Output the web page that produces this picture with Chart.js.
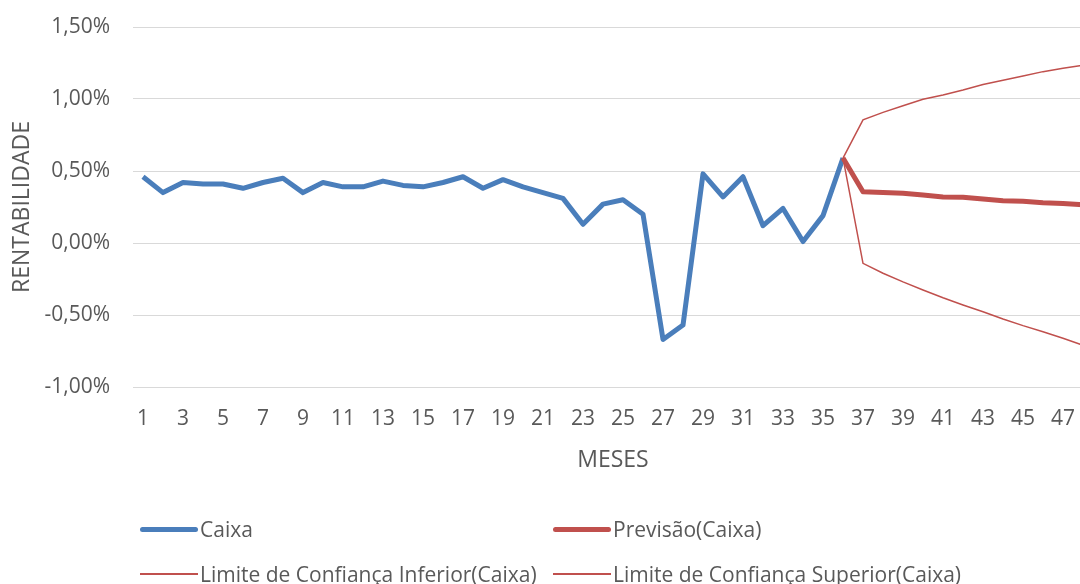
<!DOCTYPE html>
<html>
<head>
<meta charset="utf-8">
<script src="https://cdn.jsdelivr.net/npm/chart.js@4/dist/chart.umd.min.js"></script>
<style>
  html, body { margin:0; padding:0; background:#fff; overflow:hidden; width:1080px; height:584px; }
  #wrap { position:absolute; left:0; top:0; width:1110px; height:490px; }
  #legend { position:absolute; left:0; top:0; width:1080px; height:584px; pointer-events:none; }
  .li { position:absolute; display:flex; align-items:center; height:30px; font-family:"Open Sans",sans-serif; font-size:21px; color:#595959; white-space:nowrap; }
  .li .sw { width:58px; margin-right:2px; }
</style>
</head>
<body>
<div id="wrap"><canvas id="c" width="1110" height="490"></canvas></div>
<div id="legend"></div>
<script>
const months = [1,2,3,4,5,6,7,8,9,10,11,12,13,14,15,16,17,18,19,20,21,22,23,24,25,26,27,28,29,30,31,32,33,34,35,36,37,38,39,40,41,42,43,44,45,46,47,48];
// Rentabilidade (%), months 1..36
const caixa = [0.46,0.35,0.42,0.41,0.41,0.38,0.42,0.45,0.35,0.42,0.39,0.39,0.43,0.40,0.39,0.42,0.46,0.38,0.44,0.39,0.35,0.31,0.13,0.27,0.30,0.20,-0.67,-0.57,0.48,0.32,0.46,0.12,0.24,0.01,0.19,0.59];
// Forecast series, months 36..48
const previsao = [0.59,0.356,0.35,0.345,0.333,0.32,0.317,0.305,0.294,0.29,0.28,0.275,0.265];
const inferior = [0.59,-0.141,-0.21,-0.27,-0.326,-0.38,-0.43,-0.477,-0.528,-0.574,-0.616,-0.662,-0.71];
const superior = [0.59,0.855,0.907,0.953,0.998,1.028,1.062,1.10,1.13,1.16,1.19,1.213,1.235];
const seriesNames = ["Caixa","Previsão(Caixa)","Limite de Confiança Inferior(Caixa)","Limite de Confiança Superior(Caixa)"];
const forecastStart = 36;

function padForecast(arr){
  const out = months.map(() => null);
  arr.forEach((v,i) => { out[forecastStart - 1 + i] = v; });
  return out;
}
const caixaData = months.map((m,i) => i < caixa.length ? caixa[i] : null);

const FONT = "'Open Sans',sans-serif";
const GRAY = '#595959';
const BLUE = '#4a7ebb';
const RED = '#c0504d';

const chart = new Chart(document.getElementById('c'), {
  type: 'line',
  data: {
    labels: months,
    datasets: [
      { label: seriesNames[0], data: caixaData, borderColor: BLUE, backgroundColor: BLUE, borderWidth: 5, pointRadius: 0, order: 4, borderJoinStyle:'round' },
      { label: seriesNames[1], data: padForecast(previsao), borderColor: RED, backgroundColor: RED, borderWidth: 5, pointRadius: 0, order: 3, borderJoinStyle:'round' },
      { label: seriesNames[2], data: padForecast(inferior), borderColor: RED, backgroundColor: RED, borderWidth: 1.5, pointRadius: 0, order: 2 },
      { label: seriesNames[3], data: padForecast(superior), borderColor: RED, backgroundColor: RED, borderWidth: 1.5, pointRadius: 0, order: 1 }
    ]
  },
  options: {
    responsive: false,
    animation: false,
    spanGaps: false,
    layout: { padding: { top: 27, right: 17, left: 0, bottom: 0 } },
    plugins: { legend: { display: false }, tooltip: { enabled: false } },
    scales: {
      x: {
        offset: true,
        grid: { display: false, drawTicks: false },
        border: { display: false },
        ticks: {
          autoSkip: false, maxRotation: 0, minRotation: 0, padding: 19,
          color: GRAY, font: { family: FONT, size: 21 },
          callback: function(val, idx){ return idx % 2 === 0 ? String(months[idx]) : ''; }
        },
        title: { display: true, text: 'MESES', color: GRAY, font: { family: FONT, size: 23 }, padding: { top: 0, bottom: 16 } },
        afterFit: function(s){ s.height = 103; }
      },
      y: {
        min: -1, max: 1.5,
        grid: { color: '#d9d9d9', lineWidth: 1, drawTicks: true, tickLength: 19, tickColor: 'rgba(0,0,0,0)' },
        border: { display: false },
        ticks: {
          stepSize: 0.5, padding: 4, color: GRAY, font: { family: FONT, size: 21 },
          callback: function(v){ return v.toFixed(2).replace('.', ',') + '%'; }
        },
        title: { display: true, text: 'RENTABILIDADE', color: GRAY, font: { family: FONT, size: 23 }, padding: { top: 9, bottom: 0 } },
        afterFit: function(s){ s.width = 133; }
      }
    }
  }
});

// HTML legend built from the chart's datasets
const legendPos = [[140,514],[553,514],[140,559],[553,559]];
const leg = document.getElementById('legend');
chart.data.datasets.forEach((ds, i) => {
  const item = document.createElement('div');
  item.className = 'li';
  item.style.left = legendPos[i][0] + 'px';
  item.style.top = legendPos[i][1] + 'px';
  const sw = document.createElement('span');
  sw.className = 'sw';
  sw.style.height = ds.borderWidth + 'px';
  sw.style.background = ds.borderColor;
  if (ds.borderWidth > 2) sw.style.borderRadius = '3px';
  const tx = document.createElement('span');
  tx.textContent = ds.label;
  item.appendChild(sw); item.appendChild(tx);
  leg.appendChild(item);
});
</script>
</body>
</html>
